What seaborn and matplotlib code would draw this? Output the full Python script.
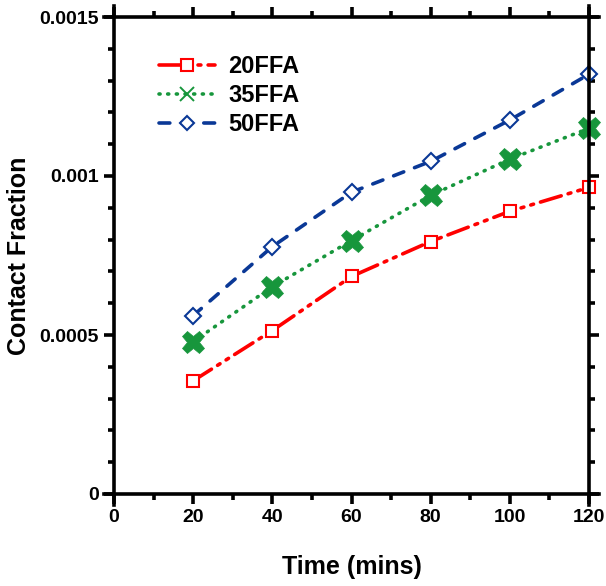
import matplotlib
matplotlib.use("Agg")
import matplotlib.pyplot as plt
import seaborn as sns
import pandas as pd
from matplotlib.lines import Line2D
from matplotlib.ticker import MultipleLocator

time = [20, 40, 60, 80, 100, 120]
ffa20 = [0.000356, 0.000514, 0.000684, 0.000794, 0.000889, 0.000964]
ffa35 = [0.000479, 0.000652, 0.000797, 0.000939, 0.001053, 0.001150]
ffa50 = [0.000561, 0.000778, 0.000949, 0.001046, 0.001176, 0.001320]
labels = ["20FFA", "35FFA", "50FFA"]

sns.set_style("ticks")
plt.rcParams['font.family'] = ['Liberation Sans', 'DejaVu Sans']
plt.rcParams['font.weight'] = 'bold'
for k in ['text.color', 'axes.labelcolor', 'xtick.color', 'ytick.color', 'axes.edgecolor']:
    plt.rcParams[k] = 'black'

red, green, blue = "#FF0000", "#17963C", "#0A3896"

fig = plt.figure(figsize=(6.06, 5.86), dpi=100)
ax = fig.add_axes([114/606, 1-494/586, 475/606, 477/586])

df = pd.DataFrame({"time": time, "20FFA": ffa20, "35FFA": ffa35, "50FFA": ffa50})

sns.lineplot(data=df, x="time", y="20FFA", ax=ax, color=red, lw=2.6,
             marker="s", markersize=8, markerfacecolor="white",
             markeredgecolor=red, markeredgewidth=1.5)
ax.lines[-1].set_dashes((6, 2, 0.8, 2, 0.8, 2))
ax.lines[-1].set_dash_capstyle("round")
sns.lineplot(data=df, x="time", y="35FFA", ax=ax, color=green, lw=2.6,
             marker="X", markersize=16, markerfacecolor=green,
             markeredgecolor=green, markeredgewidth=0.5)
ax.lines[-1].set_linestyle((0, (0.3, 2.1)))
ax.lines[-1].set_dash_capstyle("round")
sns.lineplot(data=df, x="time", y="50FFA", ax=ax, color=blue, lw=2.6,
             marker="D", markersize=8, markerfacecolor="white",
             markeredgecolor=blue, markeredgewidth=1.5)
ax.lines[-1].set_linestyle((0, (3.0, 3.2)))
ax.lines[-1].set_dash_capstyle("round")
for ln in ax.lines:
    ln.set_clip_on(False)

ax.set_xlim(0, 120)
ax.set_ylim(0, 0.0015)
ax.xaxis.set_minor_locator(MultipleLocator(10))
ax.yaxis.set_minor_locator(MultipleLocator(0.0001))
ax.set_yticks([0, 0.0005, 0.001, 0.0015])
ax.set_yticklabels(["0", "0.0005", "0.001", "0.0015"])
ax.set_xticks([0, 20, 40, 60, 80, 100, 120])
ax.set_xticklabels(["0", "20", "40", "60", "80", "100", "120"])

for s in ax.spines.values():
    s.set_linewidth(2.6)
    s.set_visible(True)
ax.spines['bottom'].set_bounds(-2.6, 122.6)
ax.spines['top'].set_bounds(-2.6, 122.6)
ax.spines['left'].set_bounds(-0.000035, 0.001535)
ax.spines['right'].set_bounds(-0.000035, 0.001535)

ax.tick_params(which='both', direction='out', width=2.6, labelsize=14,
               top=True, right=True, bottom=True, left=True, pad=4,
               labelcolor='black', color='black')
ax.tick_params(which='major', length=7)
ax.tick_params(which='minor', length=4)

ax.set_xlabel("Time (mins)", fontsize=18, fontweight='bold', labelpad=21)
ax.set_ylabel("Contact Fraction", fontsize=18, fontweight='bold', labelpad=6)

handles = [
    Line2D([], [], color=red, lw=2.6, dashes=(6, 2, 0.8, 2, 0.8, 2), dash_capstyle="round",
           marker="s", markersize=8, markerfacecolor="white", markeredgecolor=red,
           markeredgewidth=1.5),
    Line2D([], [], color=green, lw=2.6, linestyle=(0, (0.3, 2.1)), dash_capstyle="round",
           marker="x", markersize=10, markeredgewidth=1.4),
    Line2D([], [], color=blue, lw=2.6, linestyle=(0, (3.0, 3.2)), dash_capstyle="round",
           marker="D", markersize=7, markerfacecolor="white", markeredgecolor=blue,
           markeredgewidth=1.5),
]
leg = ax.legend(handles, labels, loc="upper left", bbox_to_anchor=(0.094, 0.92),
                frameon=False, handlelength=2.4, handletextpad=0.55,
                labelspacing=0.25, borderpad=0, borderaxespad=0,
                prop={'weight': 'bold', 'size': 17})

fig.savefig("out.png", dpi=100)
